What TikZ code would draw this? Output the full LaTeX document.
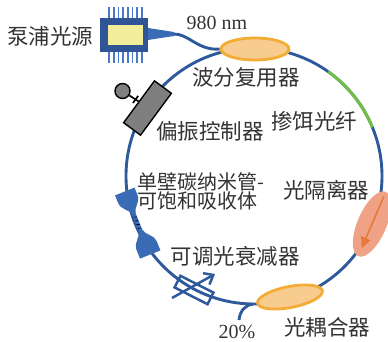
\documentclass[tikz,border=0pt]{standalone}
\usepackage{fontspec}
\setmainfont{Liberation Serif}
\newfontfamily\cjk{Noto Sans CJK SC}
\usetikzlibrary{shapes.geometric,arrows.meta,calc}

\definecolor{ringblue}{HTML}{2E5A9C}
\definecolor{fibergreen}{HTML}{72BF44}
\definecolor{wdmfill}{HTML}{F8CB8F}
\definecolor{wdmline}{HTML}{F3AC36}
\definecolor{isofill}{HTML}{EFA286}
\definecolor{isoarrow}{HTML}{E5793B}
\definecolor{chipblue}{HTML}{2F5597}
\definecolor{pinblue}{HTML}{4A78C8}
\definecolor{chipyellow}{HTML}{F1ED9A}
\definecolor{plugblue}{HTML}{3A6BB5}
\definecolor{pcgray}{HTML}{7F7F7F}
\definecolor{labelgray}{HTML}{333333}

\begin{document}
\begin{tikzpicture}[x=1pt,y=-1pt,
  fiber/.style={draw=ringblue,line width=2.9pt},
  couplerbox/.style={ellipse,draw=wdmline,fill=wdmfill,line width=2.8pt,inner sep=0pt},
  lbl/.style={text=labelgray,font=\cjk\fontsize{21.5}{22}\selectfont,inner sep=0pt},
  num/.style={text=labelgray,font=\fontsize{20}{22}\selectfont,inner sep=0pt},
]
\useasboundingbox (0,0) rectangle (388,342);
\coordinate (C) at (254,176);

% fibre ring and the erbium-doped section
\draw[fiber] (C) circle[radius=128];
\draw[draw=fibergreen,line width=2.9pt] ($(C)+(-54.6:128)$) arc[start angle=-54.6,end angle=-22.4,radius=128];

% pump laser chip with pins and pigtail plug
\foreach \i in {0,...,7}{
  \draw[pinblue,line width=1.8pt] (109+\i*4.7,7) -- (109+\i*4.7,18);
  \draw[pinblue,line width=1.8pt] (109+\i*4.7,52) -- (109+\i*4.7,63);
}
\node[fill=chipblue,minimum width=48pt,minimum height=34pt,inner sep=0pt] (chip) at (124,35) {};
\node[fill=chipyellow,minimum width=35pt,minimum height=20pt,inner sep=0pt] (die) at (125.5,35) {};
\fill[plugblue] (148,28) -- (174,32) -- (174,36) -- (148,40) -- cycle;
\coordinate (plugtip) at (173,34);

% wavelength division multiplexer and pump fibre
\node[couplerbox,minimum width=68pt,minimum height=22pt] (wdm) at (255,49) {};
\draw[fiber] (plugtip) .. controls (188,33) and (198,51) .. (wdm.west);

% output coupler with 20% tap
\coordinate (tapA) at (253,304);
\coordinate (tapB) at (239,320);
\draw[fiber] (tapA) .. controls (245,305) and (240,311) .. (tapB);
\node[couplerbox,minimum width=66pt,minimum height=21pt,rotate=11] (oc) at (290,297) {};

% isolator
\node[ellipse,fill=isofill,minimum width=70pt,minimum height=29pt,inner sep=0pt,rotate=66.8] (iso) at (372,224) {};
\draw[isoarrow,line width=1.5pt,-{Triangle[length=11pt,width=10pt]}]
  ($(iso.center)!0.85!(iso.east)$) -- ($(iso.center)!0.75!(iso.west)$);

% polarization controller
\node[draw=black,fill=pcgray,line width=1.4pt,minimum width=52pt,minimum height=21pt,inner sep=0pt,rotate=53.6] (pc) at (147.5,108) {};
\node[circle,draw=black,fill=pcgray,line width=1.4pt,minimum size=15pt,inner sep=0pt] (knob) at (122.5,91) {};
\draw[line width=1.7pt] (pc.north) -- (knob);
\coordinate (tbar) at ($(pc.north)!3.5pt!(knob.center)$);
\draw[line width=1.7pt] ($(tbar)+(2.6,-3.5)$) -- ($(tbar)+(-2.6,3.5)$);

% variable optical attenuator
\node[draw=ringblue,line width=2.5pt,minimum width=37pt,minimum height=13pt,inner sep=0pt,rotate=-27] (voa) at (194,290) {};
\coordinate (voaA) at (172,298);
\coordinate (voaB) at (215,274);
\draw[ringblue,line width=2.5pt,-{Straight Barb[length=8pt,width=13pt]}] (voaA) -- (voaB);

% SWCNT saturable absorber between two ferrules
\begin{scope}[shift={(137.5,223)},rotate=22]
  \fill[plugblue] (-10.5,-34) -- (10.5,-34) -- (10.5,-26) .. controls (10.5,-18) and (2.5,-16) .. (2,-10)
     -- (-2,-10) .. controls (-2.5,-16) and (-10.5,-18) .. (-10.5,-26) -- cycle;
  \fill[plugblue] (-1.9,-11) rectangle (1.9,9);
  \fill[plugblue] (-2,8) -- (2,8) .. controls (2.5,14) and (11,17) .. (11,24) -- (11,34)
     -- (-11,34) -- (-11,24) .. controls (-11,17) and (-2.5,14) .. (-2,8) -- cycle;
  \foreach \yy in {-7,-3,1,5}
    \draw[black,line width=0.6pt] (-1.7,\yy) -- (1.7,\yy+1.2);
\end{scope}

% labels
\node[lbl] (lpump) at (50,36) {泵浦光源};
\node[num] (l980) at (217,23) {980 nm};
\node[lbl] (lwdm) at (246,77) {波分复用器};
\node[lbl] (ledf) at (314,121) {掺饵光纤};
\node[lbl] (lpc) at (210,131.5) {偏振控制器};
\node[lbl,font=\cjk\fontsize{20}{19.5}\selectfont,align=left,anchor=west] (lsa) at (137,191.5) {单壁碳纳米管-\\可饱和吸收体};
\node[lbl] (liso) at (326,190) {光隔离器};
\node[lbl] (lvoa) at (235,256.5) {可调光衰减器};
\node[lbl] (loc) at (327,327) {光耦合器};
\node[num] (l20) at (237,331.5) {20\%};
\end{tikzpicture}
\end{document}
